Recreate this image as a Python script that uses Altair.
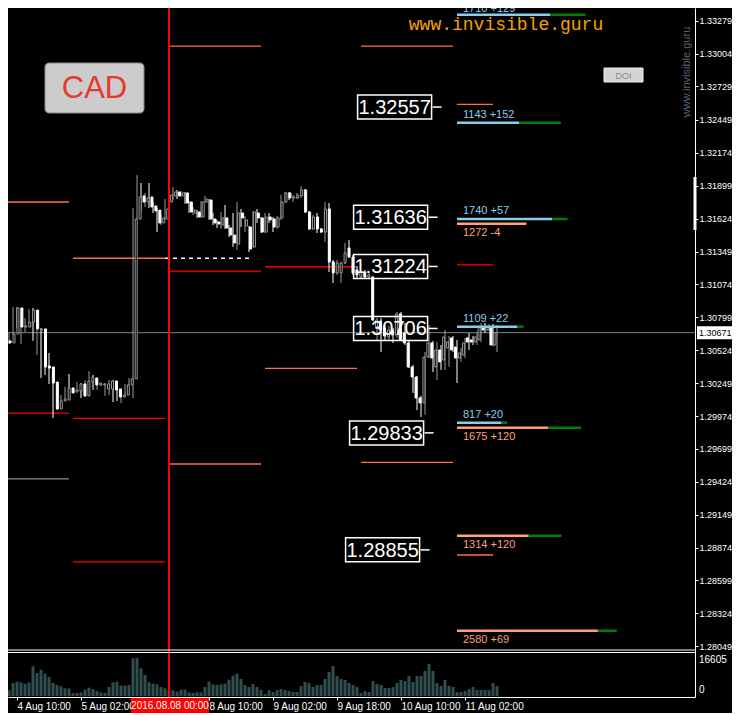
import altair as alt
import pandas as pd

# ---------------- data (USDCAD H1, 4 Aug 06:00 .. 11 Aug 10:00) ----------------
opens = [1.30660, 1.30602, 1.30585, 1.30660, 1.30877, 1.30718, 1.30718, 1.30760, 1.30860, 1.30693,
         1.30702, 1.30392, 1.30384, 1.30258, 1.30033, 1.30100, 1.30108, 1.30209, 1.30175, 1.30183,
         1.30242, 1.30142, 1.30259, 1.30292, 1.30234, 1.30234, 1.30200, 1.30200, 1.30267, 1.30200,
         1.30133, 1.30150, 1.30234, 1.30284, 1.31621, 1.31814, 1.31763, 1.31805, 1.31730, 1.31696,
         1.31588, 1.31621, 1.31763, 1.31814, 1.31847, 1.31814, 1.31839, 1.31763, 1.31671, 1.31680,
         1.31638, 1.31763, 1.31780, 1.31621, 1.31596, 1.31571, 1.31630, 1.31546, 1.31487, 1.31412,
         1.31671, 1.31563, 1.31554, 1.31387, 1.31671, 1.31630, 1.31512, 1.31638, 1.31621, 1.31554,
         1.31630, 1.31763, 1.31839, 1.31797, 1.31797, 1.31814, 1.31864, 1.31680, 1.31538, 1.31638,
         1.31538, 1.31512, 1.31705, 1.31262, 1.31170, 1.31170, 1.31253, 1.31379, 1.31303, 1.31195,
         1.31136, 1.31178, 1.31136, 1.31136, 1.30718, 1.30768, 1.30710, 1.30635, 1.30693, 1.30652,
         1.30827, 1.30668, 1.30585, 1.30384, 1.30300, 1.30125, 1.30083, 1.30467, 1.30585, 1.30384,
         1.30526, 1.30442, 1.30543, 1.30627, 1.30551, 1.30459, 1.30484, 1.30627, 1.30610, 1.30593,
         1.30610, 1.30718, 1.30693, 1.30718, 1.30568]
highs = [1.30668, 1.30610, 1.30668, 1.30885, 1.30885, 1.30768, 1.30793, 1.30869, 1.30877, 1.30718,
         1.30710, 1.30459, 1.30501, 1.30267, 1.30175, 1.30150, 1.30217, 1.30326, 1.30200, 1.30259,
         1.30250, 1.30275, 1.30350, 1.30317, 1.30292, 1.30250, 1.30250, 1.30275, 1.30275, 1.30209,
         1.30192, 1.30242, 1.30292, 1.31713, 1.31989, 1.31922, 1.31839, 1.31922, 1.31763, 1.31713,
         1.31655, 1.31788, 1.31864, 1.31889, 1.31864, 1.31855, 1.31847, 1.31772, 1.31722, 1.31696,
         1.31772, 1.31814, 1.31788, 1.31671, 1.31613, 1.31680, 1.31738, 1.31571, 1.31671, 1.31763,
         1.31705, 1.31646, 1.31563, 1.31688, 1.31705, 1.31638, 1.31671, 1.31671, 1.31638, 1.31646,
         1.31822, 1.31847, 1.31847, 1.31822, 1.31839, 1.31897, 1.31872, 1.31688, 1.31655, 1.31671,
         1.31546, 1.31763, 1.31755, 1.31278, 1.31278, 1.31262, 1.31421, 1.31446, 1.31320, 1.31228,
         1.31195, 1.31195, 1.31178, 1.31145, 1.30793, 1.30793, 1.30735, 1.30727, 1.30710, 1.30844,
         1.30844, 1.30752, 1.30610, 1.30401, 1.30309, 1.30142, 1.30509, 1.30735, 1.30602, 1.30593,
         1.30568, 1.30693, 1.30643, 1.30643, 1.30610, 1.30543, 1.30627, 1.30668, 1.30643, 1.30676,
         1.30752, 1.30752, 1.30743, 1.30743, 1.30735]
lows = [1.30576, 1.30576, 1.30576, 1.30652, 1.30710, 1.30576, 1.30676, 1.30752, 1.30602, 1.30484,
        1.30292, 1.30317, 1.30242, 1.29957, 1.30024, 1.30066, 1.30100, 1.30150, 1.30167, 1.30175,
        1.30125, 1.30133, 1.30250, 1.30192, 1.30192, 1.30225, 1.30142, 1.30150, 1.30091, 1.30100,
        1.30083, 1.30142, 1.30225, 1.30125, 1.31613, 1.31680, 1.31722, 1.31713, 1.31671, 1.31512,
        1.31571, 1.31613, 1.31755, 1.31780, 1.31788, 1.31805, 1.31747, 1.31671, 1.31655, 1.31630,
        1.31630, 1.31755, 1.31613, 1.31571, 1.31546, 1.31538, 1.31538, 1.31471, 1.31387, 1.31362,
        1.31554, 1.31512, 1.31345, 1.31379, 1.31588, 1.31504, 1.31504, 1.31588, 1.31512, 1.31538,
        1.31613, 1.31755, 1.31780, 1.31763, 1.31788, 1.31797, 1.31671, 1.31529, 1.31529, 1.31504,
        1.31504, 1.31429, 1.31178, 1.31086, 1.31153, 1.31086, 1.31245, 1.31295, 1.31153, 1.31128,
        1.31120, 1.31120, 1.31120, 1.30768, 1.30610, 1.30509, 1.30610, 1.30602, 1.30585, 1.30627,
        1.30602, 1.30568, 1.30375, 1.30167, 1.30024, 1.29966, 1.29983, 1.30459, 1.30342, 1.30275,
        1.30359, 1.30359, 1.30384, 1.30509, 1.30250, 1.30426, 1.30459, 1.30526, 1.30568, 1.30568,
        1.30593, 1.30668, 1.30685, 1.30559, 1.30509]
closes = [1.30602, 1.30585, 1.30660, 1.30877, 1.30718, 1.30727, 1.30760, 1.30860, 1.30702, 1.30702,
          1.30384, 1.30375, 1.30250, 1.30033, 1.30100, 1.30117, 1.30209, 1.30167, 1.30192, 1.30242,
          1.30142, 1.30267, 1.30300, 1.30234, 1.30250, 1.30242, 1.30242, 1.30267, 1.30192, 1.30133,
          1.30150, 1.30234, 1.30284, 1.31621, 1.31805, 1.31763, 1.31797, 1.31722, 1.31688, 1.31588,
          1.31630, 1.31705, 1.31822, 1.31847, 1.31814, 1.31839, 1.31755, 1.31680, 1.31696, 1.31638,
          1.31763, 1.31788, 1.31621, 1.31588, 1.31579, 1.31630, 1.31546, 1.31487, 1.31421, 1.31671,
          1.31630, 1.31613, 1.31370, 1.31680, 1.31630, 1.31512, 1.31638, 1.31613, 1.31554, 1.31630,
          1.31763, 1.31839, 1.31797, 1.31805, 1.31822, 1.31864, 1.31680, 1.31538, 1.31638, 1.31538,
          1.31512, 1.31705, 1.31262, 1.31170, 1.31253, 1.31253, 1.31337, 1.31303, 1.31170, 1.31153,
          1.31178, 1.31136, 1.31153, 1.30777, 1.30777, 1.30693, 1.30643, 1.30693, 1.30652, 1.30827,
          1.30610, 1.30585, 1.30384, 1.30300, 1.30125, 1.30083, 1.30467, 1.30585, 1.30459, 1.30526,
          1.30426, 1.30635, 1.30593, 1.30526, 1.30459, 1.30501, 1.30585, 1.30593, 1.30593, 1.30635,
          1.30718, 1.30693, 1.30718, 1.30568, 1.30671]
volumes = [2480, 2190, 2480, 5680, 6270, 5970, 5390, 5970, 12970, 10050,
           11510, 9760, 8300, 5680, 4810, 4230, 3350, 3350, 1310, 1310,
           1600, 2770, 3640, 3060, 2190, 1600, 1310, 3930, 5970, 6270,
           4520, 4520, 4810, 16460, 16605, 12090, 9180, 5970, 5390, 5100,
           3930, 3350, 2480, 2480, 1890, 2770, 2770, 1600, 1310, 1600,
           1600, 3930, 6270, 5100, 4810, 5100, 5390, 7140, 8890, 9760,
           7430, 4810, 3930, 5250, 3930, 2620, 870, 2620, 1750, 2620,
           3060, 2620, 2190, 1750, 1750, 4370, 6120, 5680, 3930, 4810,
           4810, 7430, 10490, 13110, 8740, 7430, 6990, 5680, 4810, 3930,
           1310, 2190, 1750, 6560, 5250, 4810, 3500, 3500, 3930, 5680,
           6990, 6560, 8740, 6120, 8740, 8740, 10930, 13990, 10930, 5680,
           4370, 6990, 4370, 3930, 1750, 1750, 2190, 3060, 3930, 2620,
           2620, 2620, 2620, 5680, 4370]

tick_index = [4, 20, 52, 68, 84, 100, 116]
tick_labels = ["4 Aug 10:00", "5 Aug 02:00", "8 Aug 10:00", "9 Aug 02:00",
               "9 Aug 18:00", "10 Aug 10:00", "11 Aug 02:00"]
separator_index = 42
separator_label = "2016.08.08 00:00"
price_ticks = [1.33279, 1.33004, 1.32729, 1.32449, 1.32174, 1.31899, 1.31624, 1.31349,
               1.31074, 1.30799, 1.30524, 1.30249, 1.29974, 1.29699, 1.29424, 1.29149,
               1.28874, 1.28599, 1.28324, 1.28049]
last_price = 1.30671
volume_max = 16605

level_price = [1.31763, 1.29999, 1.29448, 1.31293, 1.29955, 1.28754, 1.33067, 1.31186,
               1.29573, 1.31222, 1.30373, 1.33067, 1.29587, 1.32580, 1.31237, 1.28812]
level_from = [-1, -1, -1, 18, 18, 18, 42, 42, 42, 66, 66, 90, 90, 114, 114, 114]
level_to = [17, 17, 17, 41, 41, 41, 65, 65, 65, 89, 89, 113, 113, 123, 123, 123]
level_type = ["upper", "lower", "old", "upper", "lower", "lower", "upper", "lower",
              "upper", "lower", "upper", "upper", "upper", "upper", "lower", "upper"]
dashed_price = 1.31293
dashed_from, dashed_to = 41, 62

box_prices = [1.32557, 1.31636, 1.31224, 1.30706, 1.29833, 1.28855]
box_center = [98.4, 97.4, 97.4, 97.4, 96.4, 95.4]

cluster_prices = [1.33329, 1.32426, 1.31621, 1.31582, 1.30721, 1.29918, 1.29876, 1.28974, 1.28179]
cluster_count = [1710, 1143, 1740, 1272, 1109, 817, 1675, 1314, 2580]
cluster_delta = [129, 152, 57, -4, 22, 20, 120, 120, 69]
cluster_side = ["buy", "buy", "buy", "sell", "buy", "buy", "sell", "sell", "sell"]

# ---------------- styling ----------------
W, H = 687, 689
FONT = "Liberation Sans"
GRAY = "#9A9A9A"
VOLC = "#2F4F4F"
ORANGE = "#FF6F45"
BLUE = "#87CEEB"
SALMON = "#FFA07A"
GREEN = "#008000"

X_MAIN = alt.Scale(domain=[1.75, 1.75 + W / 4], nice=False, zero=False)
Y_PRICE = alt.Scale(domain=[1.27625, 1.33385], nice=False, zero=False)
Y_VOL = alt.Scale(domain=[-437, 300656], nice=False, zero=False)
X_CL = alt.Scale(domain=[-8223, -8223 + W / 0.0546], nice=False, zero=False)


def xi(field):
    return alt.X(field, type="quantitative", scale=X_MAIN, axis=None)


def yp(field):
    return alt.Y(field, type="quantitative", scale=Y_PRICE, axis=None)


candles = pd.DataFrame({"i": list(range(len(opens))), "o": opens, "h": highs,
                        "l": lows, "c": closes, "v": volumes})
candles["v0"] = 0
candles["dir"] = ["up" if c >= o else "down" for o, c in zip(opens, closes)]

one = pd.DataFrame({"k": [0]})

# volume bars
vol = alt.Chart(candles).mark_rule(strokeWidth=3, color=VOLC, clip=True).encode(
    x=xi("i"),
    y=alt.Y("v0:Q", scale=Y_VOL, axis=None),
    y2="v:Q",
)

# current price line
cur_line = alt.Chart(one).mark_rule(color="#808080", strokeWidth=1).encode(
    x=alt.value(0), x2=alt.value(W),
    y=alt.Y(datum=last_price, scale=Y_PRICE, axis=None),
)

# daily level lines
levels = pd.DataFrame({"p": level_price, "a": level_from, "b": level_to, "t": level_type})
lvl = alt.Chart(levels).mark_rule(strokeWidth=1.3, clip=True).encode(
    x=xi("a"), x2="b:Q", y=yp("p"),
    color=alt.Color("t:N", scale=alt.Scale(domain=["upper", "lower", "old"],
                                           range=[ORANGE, "#FF0000", "#8C8C8C"]), legend=None),
)
dash_df = pd.DataFrame({"p": [dashed_price], "a": [dashed_from], "b": [dashed_to]})
dashed = alt.Chart(dash_df).mark_rule(color="white", strokeWidth=1.3, strokeDash=[4, 4]).encode(
    x=xi("a"), x2="b:Q", y=yp("p"))

# candles
x_label_expr = " : ".join(f"datum.value == {k} ? '{s}'" for k, s in zip(tick_index, tick_labels)) + " : ''"
wicks = alt.Chart(candles).mark_rule(strokeWidth=1, clip=True).encode(
    x=alt.X("i:Q", scale=X_MAIN,
            axis=alt.Axis(values=tick_index, labelExpr=x_label_expr, orient="bottom", title=None,
                          grid=False, domainColor="white", tickColor="white", tickSize=3,
                          labelColor="white", labelFont=FONT, labelFontSize=10, labelAlign="left",
                          labelPadding=1, labelOverlap=False, labelFlush=False)),
    y=alt.Y("h:Q", scale=Y_PRICE,
            axis=alt.Axis(orient="right", values=price_ticks, format=".5f", title=None, grid=False,
                          domainColor="white", tickColor="white", tickSize=3, labelColor="white",
                          labelFont=FONT, labelFontSize=9, labelPadding=1, labelOverlap=False,
                          labelFlush=False)),
    y2="l:Q",
    color=alt.Color("dir:N", scale=alt.Scale(domain=["up", "down"], range=[GRAY, "white"]), legend=None),
)
bodies = alt.Chart(candles).mark_bar(size=2, strokeWidth=1, clip=True).encode(
    x=xi("i"), y=yp("o"), y2="c:Q",
    fill=alt.Fill("dir:N", scale=alt.Scale(domain=["up", "down"], range=["black", "white"]), legend=None),
    stroke=alt.Stroke("dir:N", scale=alt.Scale(domain=["up", "down"], range=[GRAY, "white"]), legend=None),
)

# level clusters at the right
cl = pd.DataFrame({"p": cluster_prices, "n": cluster_count, "d": cluster_delta, "side": cluster_side})
cl["base"] = 0
cl["label"] = [f"{a} {b:+d}" for a, b in zip(cluster_count, cluster_delta)]
cl_bars = alt.Chart(cl).mark_rule(strokeWidth=2.5).encode(
    x=alt.X("base:Q", scale=X_CL, axis=None), x2="n:Q", y=yp("p"),
    color=alt.Color("side:N", scale=alt.Scale(domain=["buy", "sell"], range=[BLUE, SALMON]), legend=None),
)
cl_green = alt.Chart(cl).transform_filter("datum.d > 0").transform_calculate(
    g="datum.n + datum.d * 5").mark_rule(strokeWidth=2.5, color=GREEN).encode(
    x=alt.X("n:Q", scale=X_CL, axis=None), x2="g:Q", y=yp("p"))
cl_text_top = alt.Chart(cl).transform_filter("datum.side == 'buy' && datum.p > 1.333").mark_text(
    align="left", baseline="middle", dx=6, dy=-6, fontSize=11, font=FONT, color=BLUE).encode(
    x=alt.X("base:Q", scale=X_CL, axis=None), y=yp("p"), text="label:N")
cl_text_buy = alt.Chart(cl).transform_filter("datum.side == 'buy' && datum.p < 1.333").mark_text(
    align="left", baseline="middle", dx=6, dy=-8, fontSize=11, font=FONT, color=BLUE).encode(
    x=alt.X("base:Q", scale=X_CL, axis=None), y=yp("p"), text="label:N")
cl_text_sell = alt.Chart(cl).transform_filter("datum.side == 'sell'").mark_text(
    align="left", baseline="middle", dx=6, dy=9, fontSize=11, font=FONT, color=SALMON).encode(
    x=alt.X("base:Q", scale=X_CL, axis=None), y=yp("p"), text="label:N")

# boxed price labels
bx = pd.DataFrame({"p": box_prices, "cx": box_center})
bx["label"] = [f"{p:.5f}" for p in box_prices]
box_rect = alt.Chart(bx).mark_rect(filled=False, stroke="white", strokeWidth=1.5,
                                   xOffset=-37, x2Offset=37, yOffset=-12, y2Offset=12).encode(
    x=xi("cx"), x2="cx:Q", y=yp("p"), y2="p:Q")
box_tick = alt.Chart(bx).mark_rule(color="white", strokeWidth=1.5, xOffset=38, x2Offset=47).encode(
    x=xi("cx"), x2="cx:Q", y=yp("p"))
box_text = alt.Chart(bx).mark_text(fontSize=20, font=FONT, color="white", align="center",
                                   baseline="middle", dy=1).encode(
    x=xi("cx"), y=yp("p"), text="label:N")

# day separator line
sep_line = alt.Chart(one).mark_rule(color="#FF0000", strokeWidth=2).encode(
    x=alt.X(datum=separator_index, scale=X_MAIN, axis=None),
    y=alt.value(0), y2=alt.value(H))

# panel separators
panel_a = alt.Chart(one).mark_rule(color="white", strokeWidth=1).encode(
    x=alt.value(0), x2=alt.value(W), y=alt.value(642))
panel_b = alt.Chart(one).mark_rule(color="white", strokeWidth=1).encode(
    x=alt.value(0), x2=alt.value(W), y=alt.value(644.5))

# volume labels
vol_top = alt.Chart(one).mark_text(align="left", baseline="middle", dy=2, fontSize=10,
                                   font=FONT, color="white", text=str(volume_max)).encode(
    x=alt.value(W + 4), y=alt.Y(datum=volume_max, scale=Y_VOL, axis=None))
vol_zero = alt.Chart(one).mark_text(align="left", baseline="middle", dy=-6, fontSize=10,
                                    font=FONT, color="white", text="0").encode(
    x=alt.value(W + 4), y=alt.Y(datum=0, scale=Y_VOL, axis=None))

# last price tag on axis
tag_rect = alt.Chart(one).mark_rect(fill="white", yOffset=-6.5, y2Offset=6.5).encode(
    x=alt.value(W + 2), x2=alt.value(724),
    y=alt.Y(datum=last_price, scale=Y_PRICE, axis=None),
    y2=alt.Y2(datum=last_price))
tag_text = alt.Chart(one).mark_text(align="left", baseline="middle", fontSize=9, font=FONT,
                                    color="black", text=f"{last_price:.5f}").encode(
    x=alt.value(W + 4), y=alt.Y(datum=last_price, scale=Y_PRICE, axis=None))

# scroll marker on axis
scroll = alt.Chart(one).mark_rule(color="white", strokeWidth=3).encode(
    x=alt.value(W), y=alt.value(169), y2=alt.value(222))

# red date label on time axis
date_rect = alt.Chart(one).mark_rect(fill="#FF0000", xOffset=-38, x2Offset=40).encode(
    x=alt.X(datum=separator_index, scale=X_MAIN, axis=None),
    x2=alt.X2(datum=separator_index),
    y=alt.value(690), y2=alt.value(705))
date_text = alt.Chart(one).mark_text(fontSize=10, font=FONT, color="white", align="center",
                                     baseline="middle", dx=1, text=separator_label).encode(
    x=alt.X(datum=separator_index, scale=X_MAIN, axis=None), y=alt.value(697.5))

# buttons and watermarks
cad_rect = alt.Chart(one).mark_rect(fill="#CCCCCC", stroke="#8A8A8A", strokeWidth=1,
                                    cornerRadius=4).encode(
    x=alt.value(37), x2=alt.value(136), y=alt.value(55), y2=alt.value(105))
cad_text = alt.Chart(one).mark_text(fontSize=31, font=FONT, color="#E53B2C", align="center",
                                    baseline="middle", text="CAD").encode(
    x=alt.value(86.5), y=alt.value(81))
doi_rect = alt.Chart(one).mark_rect(fill="#D4D4D4", stroke="#F0F0F0", strokeWidth=1).encode(
    x=alt.value(596), x2=alt.value(635), y=alt.value(60), y2=alt.value(74))
doi_text = alt.Chart(one).mark_text(fontSize=9, font=FONT, color="#8A8A8A", align="center",
                                    baseline="middle", text="DOI").encode(
    x=alt.value(615.5), y=alt.value(67.5))
wm = alt.Chart(one).mark_text(fontSize=18, font="Liberation Mono", color="#F5A000",
                              align="center", baseline="middle", text="www.invisible.guru").encode(
    x=alt.value(498), y=alt.value(17))
wm_v = alt.Chart(one).mark_text(fontSize=11, font=FONT, color="#5C6670", angle=270,
                                align="center", baseline="middle", text="www.invisible.guru").encode(
    x=alt.value(W - 8), y=alt.value(64))

chart = alt.layer(
    vol, cur_line, lvl, dashed, wicks, bodies,
    cl_bars, cl_green, cl_text_top, cl_text_buy, cl_text_sell,
    box_rect, box_tick, box_text,
    sep_line, panel_a, panel_b, vol_top, vol_zero, tag_rect, tag_text, scroll,
    date_rect, date_text, cad_rect, cad_text, doi_rect, doi_text, wm, wm_v,
).resolve_scale(
    x="independent", y="independent", color="independent", fill="independent", stroke="independent"
).properties(
    width=W, height=H, background="black",
    autosize=alt.AutoSizeParams(type="none"),
    padding={"left": 0, "top": 0, "right": 724 - W, "bottom": 16},
).configure_view(strokeWidth=0)

chart.save("out.html", embed_options={"renderer": "svg", "actions": False})
